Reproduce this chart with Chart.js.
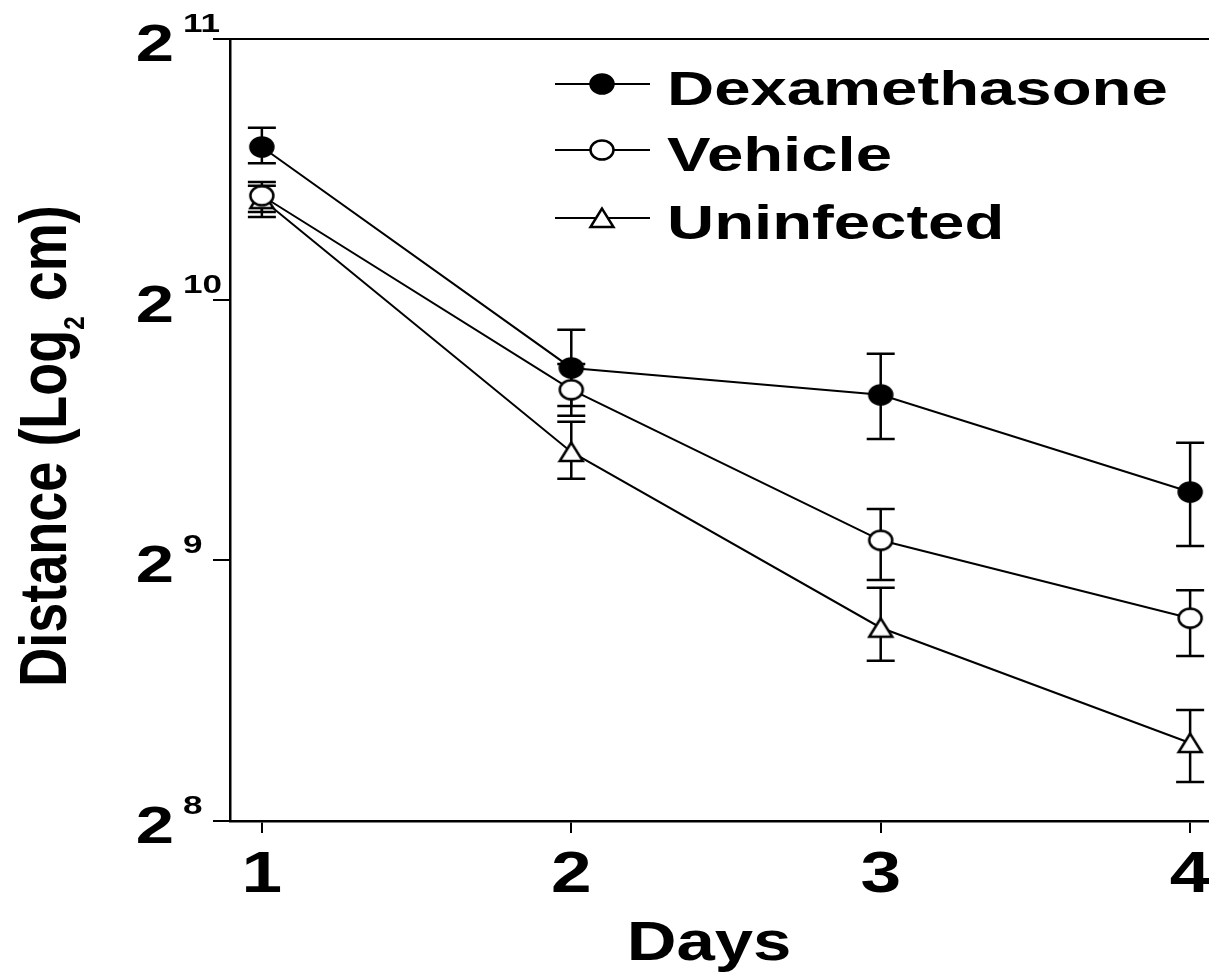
<!DOCTYPE html>
<html>
<head>
<meta charset="utf-8">
<script src="https://cdn.jsdelivr.net/npm/chart.js@4/dist/chart.umd.min.js"></script>
<style>
  body { margin: 0; background: #fff; }
  canvas { display: block; }
</style>
</head>
<body>
<canvas id="distanceChart" width="1209" height="972"></canvas>
<script>
// distance travelled per day (cm), mean with upper / lower error limits
const days = [1, 2, 3, 4];
const seriesNames = ["Dexamethasone", "Vehicle", "Uninfected"];

const dexMean = [1537, 854, 795, 614];
const dexUpper = [1617, 945, 887, 700];
const dexLower = [1472, 772, 707, 532];

const vehMean = [1350, 806, 540, 439];
const vehUpper = [1400, 863, 587, 473];
const vehLower = [1293, 752, 486, 397];

const uniMean = [1338, 683, 428, 315];
const uniUpper = [1386, 740, 476, 344];
const uniLower = [1276, 636, 392, 284];

const yTickExponents = [8, 9, 10, 11];

const FONT = '"Liberation Sans", Arial, Helvetica, sans-serif';

// marker images, drawn a little wider than tall like the printed figure
function makeMarker(kind) {
  const c = document.createElement("canvas");
  c.width = 28;
  c.height = 24;
  const g = c.getContext("2d");
  g.lineWidth = 2.5;
  g.strokeStyle = "#000";
  g.beginPath();
  if (kind === "triangle") {
    g.moveTo(14, 2.5);
    g.lineTo(2.5, 21);
    g.lineTo(25.5, 21);
    g.closePath();
  } else {
    g.ellipse(14, 12, 11.5, 9.5, 0, 0, Math.PI * 2);
  }
  g.fillStyle = kind === "filled" ? "#000" : "#fff";
  g.fill();
  g.stroke();
  return c;
}

const markers = [makeMarker("filled"), makeMarker("open"), makeMarker("triangle")];
const means = [dexMean, vehMean, uniMean];
const uppers = [dexUpper, vehUpper, uniUpper];
const lowers = [dexLower, vehLower, uniLower];

function drawText(ctx, text, x, y, size, sx, align) {
  ctx.save();
  ctx.font = "bold " + size + "px " + FONT;
  ctx.textAlign = align;
  ctx.textBaseline = "alphabetic";
  ctx.fillStyle = "#000";
  ctx.translate(x, y);
  ctx.scale(sx, 1);
  ctx.fillText(text, 0, 0);
  ctx.restore();
}

const errorBars = {
  id: "errorBars",
  beforeDatasetsDraw(chart) {
    const ctx = chart.ctx;
    const xs = chart.scales.x;
    const ys = chart.scales.y;
    ctx.save();
    ctx.strokeStyle = "#000";
    ctx.lineWidth = 2.5;
    for (let s = 0; s < means.length; s++) {
      for (let i = 0; i < days.length; i++) {
        const x = xs.getPixelForValue(days[i]);
        const top = ys.getPixelForValue(uppers[s][i]);
        const bot = ys.getPixelForValue(lowers[s][i]);
        ctx.beginPath();
        ctx.moveTo(x, top);
        ctx.lineTo(x, bot);
        ctx.moveTo(x - 14, top);
        ctx.lineTo(x + 14, top);
        ctx.moveTo(x - 14, bot);
        ctx.lineTo(x + 14, bot);
        ctx.stroke();
      }
    }
    ctx.restore();
  },
};

const labels = {
  id: "labels",
  afterDraw(chart) {
    const ctx = chart.ctx;
    const xs = chart.scales.x;
    const ys = chart.scales.y;
    const area = chart.chartArea;

    // top frame line
    ctx.save();
    ctx.strokeStyle = "#000";
    ctx.lineWidth = 2;
    ctx.beginPath();
    ctx.moveTo(area.left - 17, area.top);
    ctx.lineTo(chart.width, area.top);
    ctx.stroke();
    ctx.restore();

    // y ticks as powers of two
    yTickExponents.forEach((e) => {
      const y = ys.getPixelForValue(Math.pow(2, e));
      drawText(ctx, "2", 174, y + 22, 51, 1.35, "right");
      drawText(ctx, String(e), 183, y - 7, 26, 1.35, "left");
    });

    // x ticks
    days.forEach((d) => {
      drawText(ctx, String(d), xs.getPixelForValue(d), 892, 57, 1.28, "center");
    });

    drawText(ctx, "Days", 709, 960, 56, 1.23, "center");

    // y title with subscript
    ctx.save();
    ctx.fillStyle = "#000";
    ctx.translate(66, 446);
    ctx.rotate(-Math.PI / 2);
    ctx.scale(1, 1.22);
    const big = "bold 54px " + FONT;
    const small = "bold 24px " + FONT;
    ctx.font = big;
    const w1 = ctx.measureText("Distance (Log").width;
    const w3 = ctx.measureText(" cm)").width;
    ctx.font = small;
    const w2 = ctx.measureText("2").width;
    let u = -(w1 + w2 + w3) / 2;
    ctx.textAlign = "left";
    ctx.font = big;
    ctx.fillText("Distance (Log", u, 0);
    u += w1;
    ctx.font = small;
    ctx.fillText("2", u, 15);
    u += w2;
    ctx.font = big;
    ctx.fillText(" cm)", u, 0);
    ctx.restore();

    // legend
    const legendY = [84, 150, 218];
    seriesNames.forEach((name, i) => {
      const y = legendY[i];
      ctx.save();
      ctx.strokeStyle = "#000";
      ctx.lineWidth = 2;
      ctx.beginPath();
      ctx.moveTo(555, y);
      ctx.lineTo(650, y);
      ctx.stroke();
      ctx.restore();
      const m = markers[i];
      ctx.drawImage(m, 602 - m.width / 2, y - m.height / 2);
      drawText(ctx, name, 667, y + 21, 48, 1.36, "left");
    });
  },
};

function buildDataset(i) {
  return {
    label: seriesNames[i],
    data: days.map((d, k) => ({ x: d, y: means[i][k] })),
    borderColor: "#000",
    borderWidth: 2,
    pointStyle: markers[i],
    pointRadius: 12,
    pointHoverRadius: 12,
    fill: false,
    tension: 0,
  };
}

new Chart(document.getElementById("distanceChart"), {
  type: "line",
  data: { datasets: [buildDataset(0), buildDataset(1), buildDataset(2)] },
  options: {
    responsive: false,
    animation: false,
    events: [],
    layout: { autoPadding: false, padding: { left: 213, top: 39, right: 0, bottom: 139 } },
    plugins: { legend: { display: false }, tooltip: { enabled: false } },
    scales: {
      x: {
        type: "linear",
        min: 0.897,
        max: 4.061,
        afterBuildTicks: (scale) => {
          scale.ticks = days.map((d) => ({ value: d }));
        },
        ticks: { display: false },
        grid: { drawOnChartArea: false, drawTicks: true, tickLength: 12, color: "#000", lineWidth: 2 },
        border: { display: true, color: "#000", width: 2.5 },
      },
      y: {
        type: "logarithmic",
        min: 256,
        max: 2048,
        afterBuildTicks: (scale) => {
          scale.ticks = yTickExponents.map((e) => ({ value: Math.pow(2, e) }));
        },
        ticks: { display: false },
        grid: { drawOnChartArea: false, drawTicks: true, tickLength: 17, color: "#000", lineWidth: 2 },
        border: { display: true, color: "#000", width: 2.5 },
      },
    },
  },
  plugins: [errorBars, labels],
});
</script>
</body>
</html>
